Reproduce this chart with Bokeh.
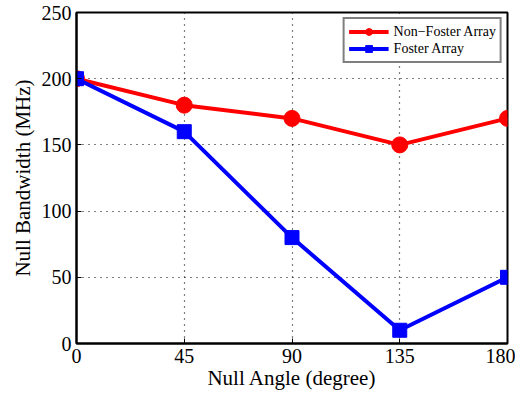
from bokeh.plotting import figure
from bokeh.embed import file_html
from bokeh.resources import INLINE
from bokeh.models import FixedTicker, Range1d, Legend, LegendItem

angles = [0, 45, 90, 135, 180]
non_foster = [200, 180, 170, 150, 170]
foster = [200, 160, 80, 10, 50]
x_ticks = [0, 45, 90, 135, 180]
y_ticks = [0, 50, 100, 150, 200, 250]

p = figure(width=515, height=392, output_backend="svg", toolbar_location=None,
           x_range=Range1d(0, 180), y_range=Range1d(0, 250),
           min_border_left=76, min_border_right=8, min_border_top=12, min_border_bottom=46)
p.outline_line_color = "black"
p.outline_line_width = 2
p.background_fill_color = "white"
p.border_fill_color = "white"

font = "Liberation Serif"
for ax in (p.xaxis[0], p.yaxis[0]):
    ax.major_label_text_font = font
    ax.major_label_text_font_size = "20px"
    ax.major_label_text_color = "black"
    ax.axis_label_text_font = font
    ax.axis_label_text_font_size = "21px"
    ax.axis_label_text_font_style = "normal"
    ax.axis_label_text_color = "black"
    ax.major_tick_in = 5
    ax.major_tick_out = 0
    ax.major_tick_line_color = "black"
    ax.minor_tick_line_color = None
    ax.axis_line_width = 2
    ax.axis_line_color = "black"
p.xaxis.major_label_standoff = 5
p.yaxis.major_label_standoff = 5
p.xaxis.ticker = FixedTicker(ticks=x_ticks)
p.yaxis.ticker = FixedTicker(ticks=y_ticks)
p.xaxis.axis_label = "Null Angle (degree)"
p.yaxis.axis_label = "Null Bandwidth (MHz)"
p.xaxis.axis_label_standoff = 0
p.yaxis.axis_label_standoff = 4

p.grid.grid_line_color = "black"
p.grid.grid_line_dash = "1 5"
p.grid.grid_line_width = 1.2

r1l = p.line(angles, non_foster, line_color="red", line_width=4)
r1m = p.scatter(angles, non_foster, marker="circle", size=16, fill_color="red", line_color="red")
r2l = p.line(angles, foster, line_color="blue", line_width=4)
r2m = p.scatter(angles, foster, marker="square", size=14, fill_color="blue", line_color="blue")

legend = Legend(items=[LegendItem(label="Non\u2212Foster Array", renderers=[r1l, r1m]),
                       LegendItem(label="Foster Array", renderers=[r2l, r2m])],
                location="top_right")
legend.label_text_font = font
legend.label_text_font_size = "14px"
legend.label_text_color = "black"
legend.border_line_color = "black"
legend.border_line_width = 2
legend.glyph_height = 17
legend.glyph_width = 40
legend.label_height = 17
legend.spacing = 0
legend.padding = 4
legend.margin = 5
legend.label_standoff = 5
p.add_layout(legend)

open("out.html", "w").write(file_html(p, INLINE))
